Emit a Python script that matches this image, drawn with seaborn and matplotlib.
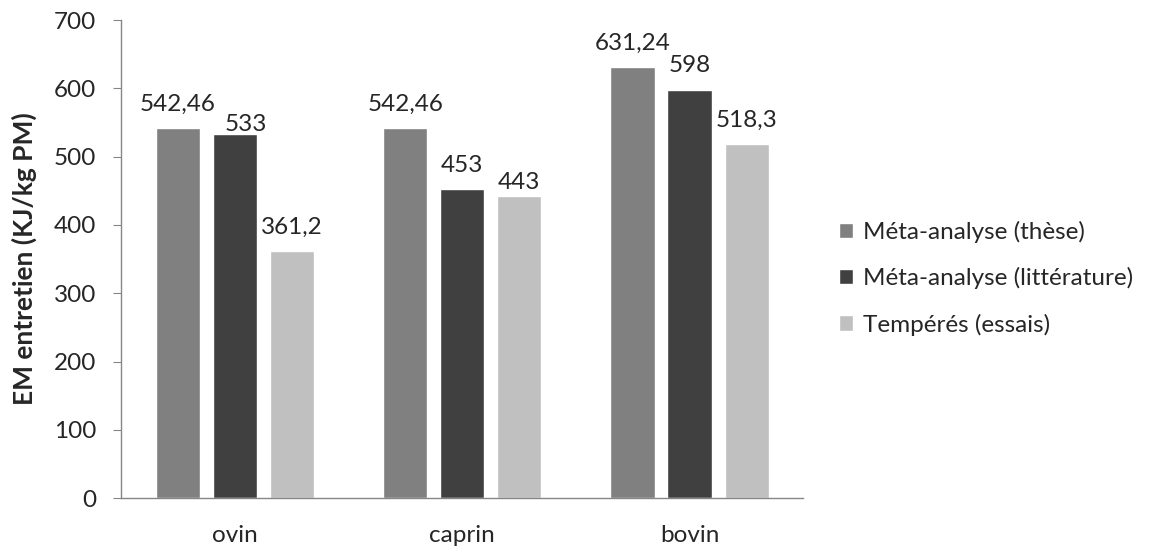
import pandas as pd
import numpy as np
import matplotlib.pyplot as plt
import seaborn as sns

especes = ['ovin', 'caprin', 'bovin']
series = ['Méta-analyse (thèse)', 'Méta-analyse (littérature)', 'Tempérés (essais)']
these = [542.46, 542.46, 631.24]
litterature = [533, 453, 598]
essais = [361.2, 443, 518.3]
couleurs = ['#808080', '#404040', '#c0c0c0']

df = pd.DataFrame({
    'espece': especes * 3,
    'serie': [series[0]] * 3 + [series[1]] * 3 + [series[2]] * 3,
    'valeur': these + litterature + essais,
})

sns.set_style('white')
plt.rcParams['font.family'] = ['Lato', 'DejaVu Sans']

fig = plt.figure(figsize=(11.54, 5.48), dpi=100)
ax = fig.add_axes([0.105, 0.091, 0.591, 0.8725])

sns.barplot(data=df, x='espece', y='valeur', hue='serie', palette=couleurs,
            width=0.753, gap=0.227, ax=ax, saturation=1)

# étiquettes de données (format français)
textes = []
for cont in ax.containers:
    labels = [f'{v:g}'.replace('.', ',') for v in cont.datavalues]
    textes.append(ax.bar_label(cont, labels=labels, padding=9.5, fontsize=17.5))

# étiquettes déplacées à la main dans l'original
textes[1][0].xyann = (8, -1)
textes[2][1].xyann = (0, 2)

ax.set_ylim(0, 700)
ax.set_xlim(-0.5, 2.5)
ax.set_yticks(range(0, 701, 100))
ax.set_xticks([-0.5, 0.5, 1.5, 2.5], minor=True)
ax.tick_params(axis='x', which='major', length=0, labelsize=17.5, pad=19)
ax.tick_params(axis='x', which='minor', length=6, color='#868686', direction='out')
ax.tick_params(axis='y', length=6, color='#868686', direction='out', labelsize=17.5, left=True, pad=12)
ax.set_xlabel('')
ax.set_ylabel('EM entretien (KJ/kg PM)', fontsize=19, fontweight='bold', labelpad=12)

for s in ['top', 'right']:
    ax.spines[s].set_visible(False)
for s in ['left', 'bottom']:
    ax.spines[s].set_color('#868686')
    ax.spines[s].set_linewidth(1)

ax.legend(loc='center left', bbox_to_anchor=(1.02, 0.46), frameon=False,
          fontsize=17.5, handlelength=0.6, handleheight=0.6, handletextpad=0.4,
          labelspacing=1.0)

fig.savefig('out.png', dpi=100)
